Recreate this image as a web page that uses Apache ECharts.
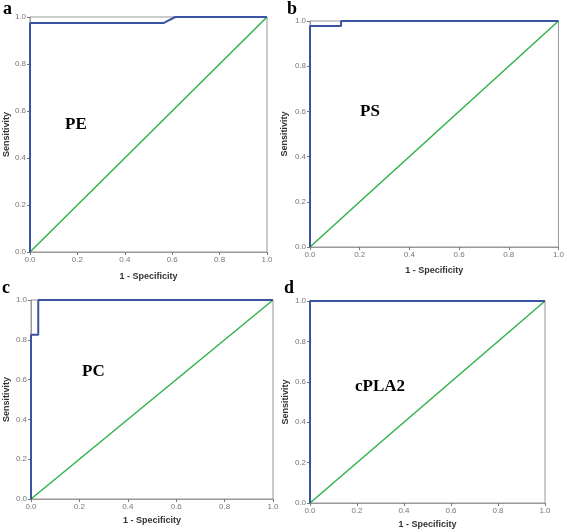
<!DOCTYPE html>
<html><head><meta charset="utf-8">
<script src="https://cdn.jsdelivr.net/npm/echarts@6/dist/echarts.min.js"></script>
<style>html,body{margin:0;padding:0;background:#fff}#c{width:567px;height:532px}</style>
</head><body><div id="c"></div>
<script>
// ROC curves: [1 - Specificity, Sensitivity]
const rocPE    = [[0,0],[0,0.975],[0.565,0.975],[0.613,1],[1,1]];
const rocPS    = [[0,0],[0,0.978],[0.125,0.978],[0.125,1],[1,1]];
const rocPC    = [[0,0],[0,0.825],[0.03,0.825],[0.03,1],[1,1]];
const rocCPLA2 = [[0,0],[0,1],[1,1]];
const reference = [[0,0],[1,1]];
const panelLetters = ['a','b','c','d'];
const markerNames = ['PE','PS','PC','cPLA2'];
const xName = '1 - Specificity';
const yName = 'Sensitivity';

const grids = [
  {left:30, top:17, width:237, height:235},
  {left:310, top:21, width:249, height:226},
  {left:31, top:300, width:242, height:199},
  {left:310, top:301, width:235, height:202}
];
const xGaps = [20, 19, 17, 17];
const yGaps = [19, 21, 20, 20];
const curves = [rocPE, rocPS, rocPC, rocCPLA2];
const labelPos = [[65,116],[360,103],[82,363],[355,378]];
const letterPos = [[3,0],[287,0],[2,279],[284,279]];

const chart = echarts.init(document.getElementById('c'));
const tickLabel = {fontSize:8, color:'#777', fontFamily:'Liberation Sans', formatter:v=>v.toFixed(1), margin:4};
const option = {
  animation:false,
  backgroundColor:'#fff',
  grid: grids.map(g=>Object.assign({show:true, borderColor:'#999', borderWidth:1, backgroundColor:'transparent'}, g)),
  xAxis: grids.map((g,i)=>({
    type:'value', gridIndex:i, min:0, max:1, interval:0.2,
    name:xName, nameLocation:'middle', nameGap:xGaps[i],
    nameTextStyle:{fontSize:9, fontWeight:'bold', color:'#333', fontFamily:'Liberation Sans'},
    axisLine:{show:true, onZero:false, lineStyle:{color:'#999'}},
    axisTick:{show:true, length:3, lineStyle:{color:'#777'}},
    axisLabel:tickLabel, splitLine:{show:false}
  })),
  yAxis: grids.map((g,i)=>({
    type:'value', gridIndex:i, min:0, max:1, interval:0.2,
    name:yName, nameLocation:'middle', nameGap:yGaps[i], nameMoveOverlap:false,
    nameTextStyle:{fontSize:9, fontWeight:'bold', color:'#333', fontFamily:'Liberation Sans'},
    axisLine:{show:true, onZero:false, lineStyle:{color:'#999'}},
    axisTick:{show:true, length:3, lineStyle:{color:'#777'}},
    axisLabel:tickLabel, splitLine:{show:false}
  })),
  series: [].concat(
    grids.map((g,i)=>({type:'line', xAxisIndex:i, yAxisIndex:i, data:reference, symbol:'none',
      lineStyle:{color:'#2fb34a', width:1.5}, z:2})),
    curves.map((d,i)=>({type:'line', xAxisIndex:i, yAxisIndex:i, data:d, symbol:'none',
      lineStyle:{color:'#3c52a3', width:2}, z:3}))
  ),
  graphic: [].concat(
    panelLetters.map((t,i)=>({type:'text', left:letterPos[i][0], top:letterPos[i][1],
      style:{text:t, font:'bold 18px "Liberation Serif"', fill:'#000'}})),
    markerNames.map((t,i)=>({type:'text', left:labelPos[i][0], top:labelPos[i][1],
      style:{text:t, font:'bold 17px "Liberation Serif"', fill:'#000'}}))
  )
};
chart.setOption(option);
</script></body></html>
